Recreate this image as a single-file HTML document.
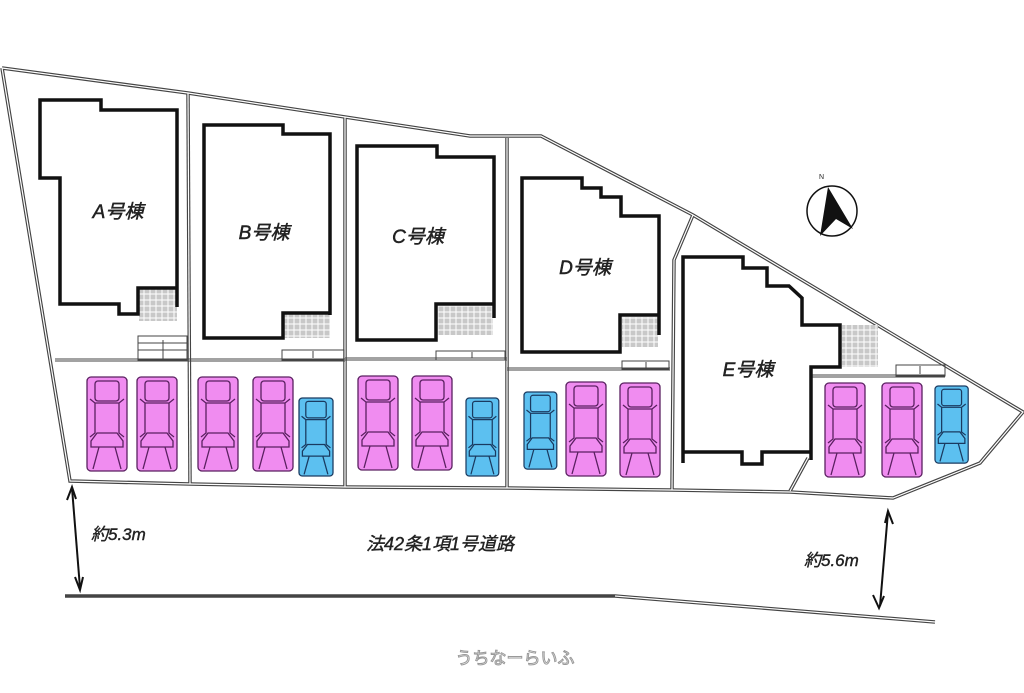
<!DOCTYPE html>
<html><head><meta charset="utf-8"><style>
html,body{margin:0;padding:0;background:#fff;width:1024px;height:693px;overflow:hidden}
text{font-family:"Liberation Sans","Noto Sans CJK JP",sans-serif;font-style:italic;fill:#222}
</style></head><body>
<svg width="1024" height="693" viewBox="0 0 1024 693" xmlns="http://www.w3.org/2000/svg">
<defs>
<pattern id="gr" width="6" height="6" patternUnits="userSpaceOnUse"><rect width="6" height="6" fill="#fff"/><rect x="0.5" y="0.5" width="5" height="5" fill="#c8c8c8"/></pattern>
<g id="car">
<rect x="0" y="0" width="40" height="94" rx="4"/>
<rect x="8" y="4" width="24" height="20" rx="3" fill="none"/>
<path d="M3 22 L8 26 L8 56 L3 60 M37 22 L32 26 L32 56 L37 60 M8 26 L32 26 M4 64 L10 56 L30 56 L36 64 L36 70 L4 70 Z M12 70 L6 92 M28 70 L34 92" fill="none"/>
</g>
</defs>
<g fill="none" stroke-linejoin="miter">
<g stroke="#444" stroke-width="3.5">
<polyline points="2,68 188,93 345,117 470,136 541,136 693,215 1023,412 980,463 893,498 790,492 670,490 507,488 345,487 190,484 70,481 2,68"/>
<line x1="188" y1="93" x2="190" y2="484"/><line x1="345" y1="117" x2="345" y2="487"/><line x1="507" y1="138" x2="507" y2="488"/>
<polyline points="693,215 674,260 672,490"/>
<line x1="790" y1="491" x2="808" y2="458"/>
<polyline points="65,596 615,596 935,622"/>
</g>
<g stroke="#fff" stroke-width="1.2">
<polyline points="2,68 188,93 345,117 470,136 541,136 693,215 1023,412 980,463 893,498 790,492 670,490 507,488 345,487 190,484 70,481 2,68"/>
<line x1="188" y1="93" x2="190" y2="484"/><line x1="345" y1="117" x2="345" y2="487"/><line x1="507" y1="138" x2="507" y2="488"/>
<polyline points="693,215 674,260 672,490"/>
<line x1="790" y1="491" x2="808" y2="458"/>
<polyline points="615,596 935,622"/>
</g>
<g stroke="#444" stroke-width="1">
<line x1="55" y1="359" x2="345" y2="359"/><line x1="55" y1="361" x2="345" y2="361"/>
<line x1="345" y1="358" x2="507" y2="358"/><line x1="345" y1="360" x2="507" y2="360"/>
<line x1="507" y1="368" x2="670" y2="368"/><line x1="507" y1="370" x2="670" y2="370"/>
<line x1="811" y1="375" x2="945" y2="375"/><line x1="811" y1="377" x2="945" y2="377"/>
</g>
<g fill="url(#gr)" stroke="none">
<rect x="139" y="289" width="38" height="32"/><rect x="284" y="314" width="46" height="24"/>
<rect x="437" y="305" width="56" height="30"/><rect x="622" y="317" width="36" height="30"/>
<rect x="842" y="325" width="36" height="42"/>
</g>
<g stroke="#444" stroke-width="1">
<rect x="138" y="336" width="49" height="24"/><line x1="138" y1="343" x2="187" y2="343"/><line x1="138" y1="350" x2="187" y2="350"/><line x1="163" y1="340" x2="163" y2="360"/>
<rect x="282" y="350" width="62" height="10"/><line x1="313" y1="351" x2="313" y2="358"/>
<rect x="436" y="351" width="69" height="9"/><line x1="472" y1="352" x2="472" y2="358"/>
<rect x="622" y="361" width="47" height="8"/><line x1="646" y1="362" x2="646" y2="368"/>
<rect x="896" y="365" width="49" height="11"/><line x1="920" y1="366" x2="920" y2="374"/>
</g>
<g stroke="#111" stroke-width="3.5">
<polyline points="177,307 177,110 101,110 101,100 40,100 40,178 60,178 60,304 119,304 119,314 138,314 138,288 177,288"/>
<polyline points="330,315 330,134 283,134 283,125 204,125 204,338 283,338 283,313 330,313"/>
<polyline points="494,318 494,157 437,157 437,146 357,146 357,340 436,340 436,304 494,304"/>
<polyline points="659,335 659,216 621,216 621,197 601,197 601,188 582,188 582,178 522,178 522,352 620,352 620,315 659,315"/>
<polyline points="683,463 683,257 743,257 743,268 767,268 767,286 789,286 802,298 802,325 840,325 840,367 811,367 811,460"/>
<polyline points="683,452 742,452 742,464 762,464 762,452 811,452"/>
</g>
</g>
<g stroke="#5a2060" stroke-width="1.3" fill="#f08cf0">
<use href="#car" transform="translate(87,377)"/>
<use href="#car" transform="translate(137,377)"/>
<use href="#car" transform="translate(198,377)"/>
<use href="#car" transform="translate(253,377)"/>
<use href="#car" transform="translate(358,376)"/>
<use href="#car" transform="translate(412,376)"/>
<use href="#car" transform="translate(566,382)"/>
<use href="#car" transform="translate(620,383)"/>
<use href="#car" transform="translate(825,383)"/>
<use href="#car" transform="translate(882,383)"/>
</g>
<g stroke="#1a3a60" stroke-width="1.5" fill="#5cc0f0">
<use href="#car" transform="translate(299,398) scale(0.85,0.83)"/>
<use href="#car" transform="translate(466,398) scale(0.82,0.83)"/>
<use href="#car" transform="translate(524,392) scale(0.82,0.82)"/>
<use href="#car" transform="translate(935,386) scale(0.83,0.82)"/>
</g>
<circle cx="832" cy="211" r="25" fill="#fff" stroke="#111" stroke-width="1.5"/>
<polygon points="828,187 853,229 836,219 820,236" fill="#111"/>
<text x="819" y="179" font-size="7" style="font-style:normal">N</text>
<g stroke="#111" stroke-width="2" fill="none">
<line x1="72" y1="488" x2="80" y2="588"/><polyline points="67,500 72,487 76,499"/><polyline points="75,577 80,590 83,577"/>
<line x1="888" y1="512" x2="880" y2="606"/><polyline points="885,523 888,511 893,524"/><polyline points="873,595 879,608 884,596"/>
</g>
<g font-size="19" stroke="#222" stroke-width="0.5">
<text x="118" y="218" text-anchor="middle">A号棟</text>
<text x="264" y="239" text-anchor="middle">B号棟</text>
<text x="418" y="243" text-anchor="middle">C号棟</text>
<text x="585" y="274" text-anchor="middle">D号棟</text>
<text x="748" y="376" text-anchor="middle">E号棟</text>
</g>
<g stroke="#222" stroke-width="0.4">
<text x="91" y="540" font-size="17">約5.3m</text>
<text x="440" y="550" font-size="18" text-anchor="middle">法42条1項1号道路</text>
<text x="804" y="566" font-size="17">約5.6m</text>
</g>
<text x="515" y="664" font-size="17" text-anchor="middle" style="font-style:normal;fill:#fff;stroke:#999;stroke-width:1">うちなーらいふ</text>
</svg>
</body></html>
